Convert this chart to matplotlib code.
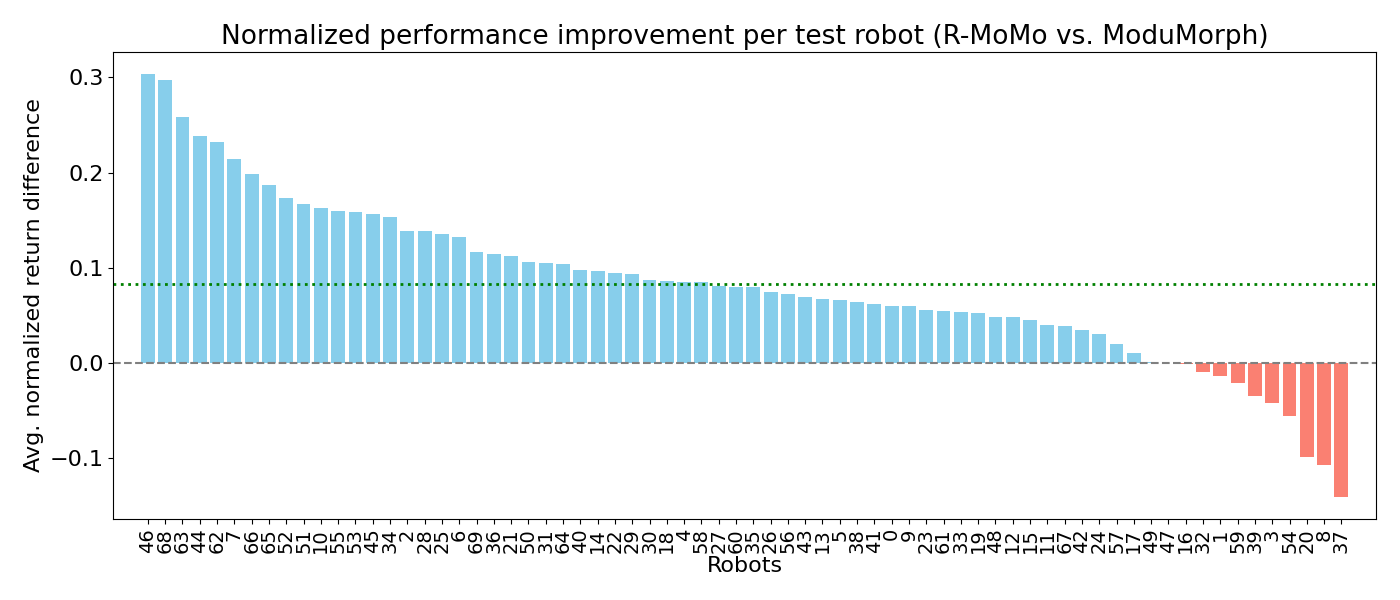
import numpy as np
import matplotlib
matplotlib.use("Agg")
import matplotlib.pyplot as plt

# robots sorted by improvement (R-MoMo minus ModuMorph)
robots = [46, 68, 63, 44, 62, 7, 66, 65, 52, 51,
          10, 55, 53, 45, 34, 2, 28, 25, 6, 69,
          36, 21, 50, 31, 64, 40, 14, 22, 29, 30,
          18, 4, 58, 27, 60, 35, 26, 56, 43, 13,
          5, 38, 41, 0, 9, 23, 61, 33, 19, 48,
          12, 15, 11, 67, 42, 24, 57, 17, 49, 47,
          16, 32, 1, 59, 39, 3, 54, 20, 8, 37]

improvement = [0.304, 0.297, 0.258, 0.238, 0.232, 0.214, 0.199, 0.187, 0.173, 0.167,
               0.163, 0.160, 0.159, 0.157, 0.153, 0.139, 0.139, 0.136, 0.132, 0.117,
               0.115, 0.112, 0.106, 0.105, 0.104, 0.098, 0.097, 0.095, 0.094, 0.087,
               0.086, 0.085, 0.085, 0.081, 0.080, 0.080, 0.075, 0.072, 0.069, 0.067,
               0.066, 0.064, 0.062, 0.060, 0.060, 0.056, 0.055, 0.054, 0.053, 0.048,
               0.048, 0.045, 0.040, 0.039, 0.035, 0.031, 0.020, 0.0105, 0.001, 0.0003,
               -0.001, -0.0095, -0.0137, -0.021, -0.035, -0.042, -0.056, -0.099, -0.107, -0.141]

mean_improvement = 0.083

plt.rcParams["font.size"] = 16

vals = np.array(improvement)
colors = ["skyblue" if v > 0 else "salmon" for v in vals]
x = np.arange(len(robots))

fig, ax = plt.subplots(figsize=(14, 6), dpi=100)
ax.bar(x, vals, color=colors)
ax.axhline(0, color="gray", linestyle="--", linewidth=1.5)
ax.axhline(mean_improvement, color="green", linestyle=":", linewidth=2)

ax.set_xticks(x)
ax.set_xticklabels([str(r) for r in robots], rotation=90, fontsize=14)
ax.set_xlim(-2, len(robots) + 1)
ax.tick_params(axis="y", labelsize=16)
ax.set_xlabel("Robots", fontsize=16, labelpad=2)
ax.set_ylabel("Avg. normalized return difference", fontsize=16)
ax.set_title("Normalized performance improvement per test robot (R-MoMo vs. ModuMorph)", fontsize=19)

plt.tight_layout()
plt.savefig("out.png")
